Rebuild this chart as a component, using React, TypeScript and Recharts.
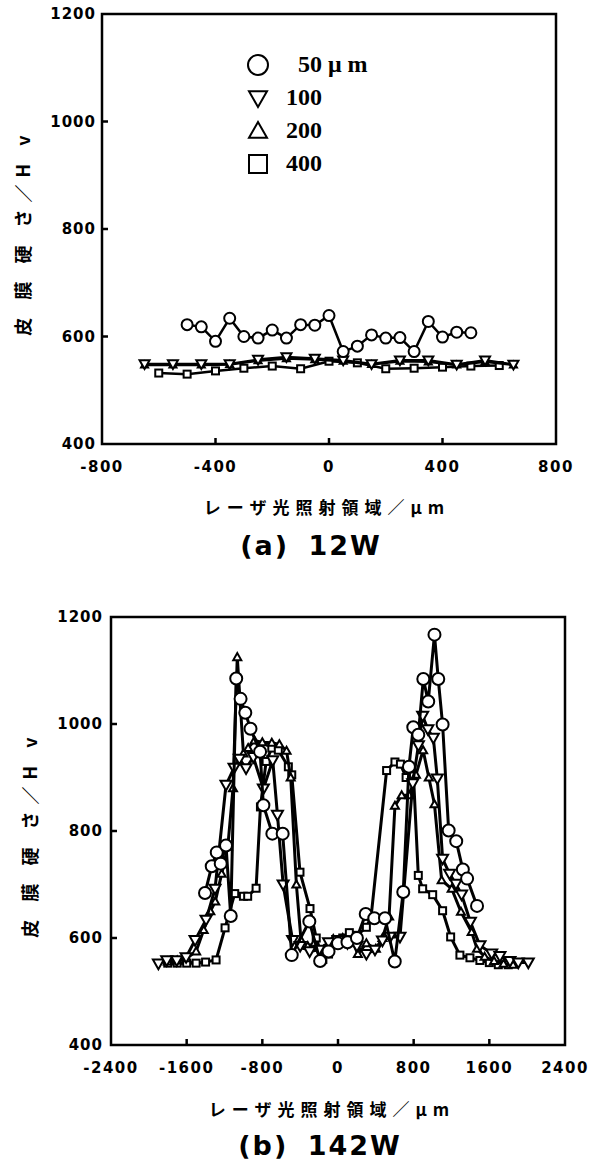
import React from 'react';
import { ScatterChart, Scatter, XAxis, YAxis, ReferenceArea, Legend } from 'recharts';

// (a) 12 W — position (µm) and hardness (Hv) per measuring depth
const pos12w50 = [-500, -450, -400, -350, -300, -250, -200, -150, -100, -50, 0, 50, 100, 150, 200, 250, 300, 350, 400, 450, 500];
const hv12w50 = [622, 618, 591, 634, 600, 597, 612, 597, 622, 621, 639, 572, 582, 603, 597, 598, 572, 628, 599, 608, 607];
const pos12w100 = [-650, -550, -450, -350, -250, -150, -50, 50, 150, 250, 350, 450, 550, 650];
const hv12w100 = [549, 549, 549, 549, 557, 562, 559, 556, 549, 556, 556, 548, 556, 548];
const pos12w200 = [-650, -550, -450, -350, -250, -150, -50, 50, 150, 250, 350, 450, 550, 650];
const hv12w200 = [547, 547, 547, 548, 555, 559, 557, 554, 548, 554, 553, 547, 553, 547];
const pos12w400 = [-600, -500, -400, -300, -200, -100, 0, 100, 200, 300, 400, 500, 600];
const hv12w400 = [532, 530, 536, 541, 545, 540, 554, 551, 540, 541, 543, 545, 546];

// (b) 142 W
const pos142w50 = [-1406, -1335, -1282, -1240, -1184, -1134, -1076, -1030, -980, -925, -824, -789, -694, -585, -489, -303, -189, -100, 0, 100, 200, 293, 384, 497, 600, 690, 750, 796, 849, 902, 954, 1020, 1060, 1106, 1170, 1250, 1320, 1365, 1470];
const hv142w50 = [684, 734, 760, 739, 773, 641, 1085, 1047, 1021, 991, 948, 848, 795, 795, 568, 631, 557, 575, 590, 592, 600, 645, 637, 637, 556, 686, 920, 994, 980, 1084, 1042, 1167, 1084, 999, 801, 781, 728, 711, 660];
const pos142w100 = [-1899, -1811, -1705, -1606, -1511, -1395, -1300, -1184, -1099, -1043, -972, -895, -789, -690, -640, -580, -480, -400, -300, -200, -100, 0, 100, 200, 300, 391, 470, 550, 655, 790, 850, 895, 950, 1008, 1050, 1106, 1180, 1247, 1307, 1400, 1501, 1625, 1712, 1818, 1906, 2012];
const hv142w100 = [552, 558, 558, 564, 596, 634, 692, 886, 918, 935, 917, 938, 879, 932, 830, 700, 596, 585, 575, 578, 592, 596, 590, 585, 570, 578, 595, 602, 602, 889, 960, 1015, 990, 974, 898, 748, 720, 701, 681, 630, 586, 571, 566, 557, 554, 554];
const pos142w200 = [-1800, -1700, -1600, -1500, -1420, -1350, -1298, -1230, -1165, -1110, -1065, -1000, -950, -883, -800, -700, -620, -544, -500, -440, -391, -320, -250, -150, -50, 50, 150, 210, 300, 400, 470, 540, 602, 673, 754, 824, 900, 960, 1020, 1096, 1202, 1300, 1413, 1470, 1550, 1650, 1750, 1850];
const hv142w200 = [556, 558, 562, 575, 615, 650, 668, 720, 771, 880, 1125, 945, 955, 969, 966, 965, 962, 950, 900, 700, 596, 585, 590, 578, 598, 600, 595, 570, 590, 580, 600, 640, 847, 867, 867, 905, 951, 900, 850, 708, 692, 649, 611, 580, 565, 557, 552, 550];
const pos142w400 = [-1800, -1700, -1600, -1500, -1400, -1289, -1194, -1092, -1000, -955, -866, -820, -760, -700, -631, -525, -489, -402, -296, -230, -160, -100, -30, 50, 120, 200, 300, 350, 514, 602, 660, 720, 798, 849, 895, 1001, 1106, 1191, 1289, 1395, 1500, 1600, 1695, 1800];
const hv142w400 = [553, 553, 553, 553, 555, 559, 619, 683, 678, 678, 693, 845, 930, 955, 951, 920, 905, 723, 655, 600, 560, 570, 590, 600, 610, 605, 620, 640, 913, 929, 925, 900, 903, 717, 692, 681, 651, 602, 568, 563, 558, 554, 550, 550];

const depthLabels = ['50 μ m', '100', '200', '400'];
const xTicks12w = [-800, -400, 0, 400, 800];
const xTicks142w = [-2400, -1600, -800, 0, 800, 1600, 2400];
const hvTicks = [400, 600, 800, 1000, 1200];

const toPoints = (xs: number[], ys: number[]) => xs.map((x, i) => ({ x, y: ys[i] }));

const TICK_FONT = '"DejaVu Sans", sans-serif';
const JP_FONT = '"Noto Sans CJK JP", sans-serif';
const Y_AXIS_W = 50;
const X_AXIS_H = 30;

// hollow markers
const ring = (r: number) => (p: any) => (
  <circle cx={p.cx} cy={p.cy} r={r} fill="#fff" stroke="#000" strokeWidth={2} />
);
const triDown = (s: number) => (p: any) => (
  <polygon
    points={`${p.cx - s},${p.cy - s * 0.75} ${p.cx + s},${p.cy - s * 0.75} ${p.cx},${p.cy + s}`}
    fill="#fff" stroke="#000" strokeWidth={2}
  />
);
const triUp = (s: number) => (p: any) => (
  <polygon
    points={`${p.cx - s},${p.cy + s * 0.75} ${p.cx + s},${p.cy + s * 0.75} ${p.cx},${p.cy - s}`}
    fill="#fff" stroke="#000" strokeWidth={2}
  />
);
const box = (s: number) => (p: any) => (
  <rect x={p.cx - s} y={p.cy - s} width={s * 2} height={s * 2} fill="#fff" stroke="#000" strokeWidth={2} />
);

// tick labels outside, short tick marks pointing into the frame
const makeXTick = (lo: number, hi: number) => (p: any) => {
  const v = p.payload.value;
  return (
    <g>
      {v !== lo && v !== hi && <line x1={p.x} y1={p.y} x2={p.x} y2={p.y - 6} stroke="#000" strokeWidth={2.5} />}
      <text x={p.x} y={p.y + 23} textAnchor="middle" dominantBaseline="central"
        fontFamily={TICK_FONT} fontWeight="bold" fontSize={15} letterSpacing={1.5} fill="#000">
        {v}
      </text>
    </g>
  );
};

const makeYTick = (gap: number) => (p: any) => {
  const v = p.payload.value;
  return (
    <g>
      {v !== 400 && v !== 1200 && <line x1={p.x} y1={p.y} x2={p.x + 6} y2={p.y} stroke="#000" strokeWidth={2.5} />}
      <text x={p.x - gap} y={p.y} textAnchor="end" dominantBaseline="central"
        fontFamily={TICK_FONT} fontWeight="bold" fontSize={15} letterSpacing={1} fill="#000">
        {v}
      </text>
    </g>
  );
};

const legendMarks = [ring(10), triDown(9), triUp(9), box(9)];

const DepthLegend = () => (
  <div style={{ fontFamily: '"Liberation Serif", serif', fontWeight: 'bold', fontSize: 24 }}>
    {depthLabels.map((label, i) => (
      <div key={label} style={{ display: 'flex', alignItems: 'center', height: 33 }}>
        <svg width={24} height={24} style={{ overflow: 'visible' }}>
          {legendMarks[i]({ cx: 12, cy: 12 })}
        </svg>
        <span style={{ marginLeft: i === 0 ? 28 : 16 }}>{label}</span>
      </div>
    ))}
  </div>
);

type Series = { data: { x: number; y: number }[]; shape: (p: any) => React.ReactElement };

function HardnessPanel(props: {
  series: Series[];
  xDomain: [number, number];
  xTicks: number[];
  height: number;
  plot: { top: number; right: number; bottom: number; left: number };
  yGap: number;
  lineWidth: number;
  legend?: boolean;
}) {
  const { series, xDomain, xTicks, height, plot, yGap, lineWidth, legend } = props;
  const margin = {
    top: plot.top,
    right: plot.right,
    bottom: plot.bottom - X_AXIS_H,
    left: plot.left - Y_AXIS_W,
  };
  return (
    <ScatterChart width={594} height={height} margin={margin}>
      <XAxis type="number" dataKey="x" domain={xDomain} ticks={xTicks} interval={0}
        allowDataOverflow axisLine={false} tickLine={false} tickSize={0} tickMargin={0} height={X_AXIS_H}
        tick={makeXTick(xDomain[0], xDomain[1])} />
      <YAxis type="number" dataKey="y" domain={[400, 1200]} ticks={hvTicks} interval={0}
        allowDataOverflow axisLine={false} tickLine={false} tickSize={0} tickMargin={0} width={Y_AXIS_W}
        tick={makeYTick(yGap)} />
      <ReferenceArea x1={xDomain[0]} x2={xDomain[1]} y1={400} y2={1200}
        fill="none" stroke="#000" strokeWidth={2.5} ifOverflow="visible" />
      {series.map((s, i) => (
        <Scatter key={i} data={s.data} shape={s.shape} isAnimationActive={false}
          line={{ stroke: '#000', strokeWidth: lineWidth }} />
      ))}
      {legend && (
        <Legend layout="vertical" align="center" verticalAlign="middle" content={<DepthLegend />}
          wrapperStyle={{ left: 246, top: 48, width: 200 }} />
      )}
    </ScatterChart>
  );
}

const series12w: Series[] = [
  { data: toPoints(pos12w400, hv12w400), shape: box(3.5) },
  { data: toPoints(pos12w200, hv12w200), shape: triUp(3.5) },
  { data: toPoints(pos12w100, hv12w100), shape: triDown(5) },
  { data: toPoints(pos12w50, hv12w50), shape: ring(5.5) },
];

const series142w: Series[] = [
  { data: toPoints(pos142w400, hv142w400), shape: box(3.5) },
  { data: toPoints(pos142w200, hv142w200), shape: triUp(4) },
  { data: toPoints(pos142w100, hv142w100), shape: triDown(5.5) },
  { data: toPoints(pos142w50, hv142w50), shape: ring(6) },
];

const textBase: React.CSSProperties = {
  position: 'absolute',
  whiteSpace: 'nowrap',
  color: '#000',
  fontWeight: 'bold',
  lineHeight: 1,
};

function AxisTitles({ yLeft, yMid, xMid, xY, capMid, capY, caption }: any) {
  return (
    <>
      <div style={{ ...textBase, left: yLeft, top: yMid, fontFamily: JP_FONT, fontSize: 18, letterSpacing: 7,
        transform: 'translate(-50%, -50%) rotate(-90deg)' }}>
        皮 膜 硬 さ／H v
      </div>
      <div style={{ ...textBase, left: xMid, top: xY, fontFamily: JP_FONT, fontSize: 17, letterSpacing: 6,
        transform: 'translate(-50%, -50%)' }}>
        レーザ光照射領域／μm
      </div>
      <div style={{ ...textBase, left: capMid, top: capY, fontFamily: TICK_FONT, fontSize: 27, letterSpacing: 2,
        wordSpacing: 8, transform: 'translate(-50%, -50%)' }}>
        {caption}
      </div>
    </>
  );
}

export default function App() {
  return (
    <div style={{ position: 'absolute', left: 0, top: 0, width: 594, height: 1160, background: '#fff' }}>
      <div style={{ position: 'absolute', left: 0, top: 0 }}>
        <HardnessPanel series={series12w} xDomain={[-800, 800]} xTicks={xTicks12w} height={490}
          plot={{ top: 14, right: 38, bottom: 46, left: 102 }} yGap={6} lineWidth={2.5} legend />
      </div>
      <AxisTitles yLeft={22} yMid={232} xMid={327} xY={506} capMid={311} capY={545} caption="(a) 12W" />
      <div style={{ position: 'absolute', left: 0, top: 590 }}>
        <HardnessPanel series={series142w} xDomain={[-2400, 2400]} xTicks={xTicks142w} height={500}
          plot={{ top: 27, right: 29, bottom: 45, left: 111 }} yGap={8} lineWidth={3} />
      </div>
      <AxisTitles yLeft={29} yMid={834} xMid={332} xY={1108} capMid={320} capY={1145} caption="(b) 142W" />
    </div>
  );
}
